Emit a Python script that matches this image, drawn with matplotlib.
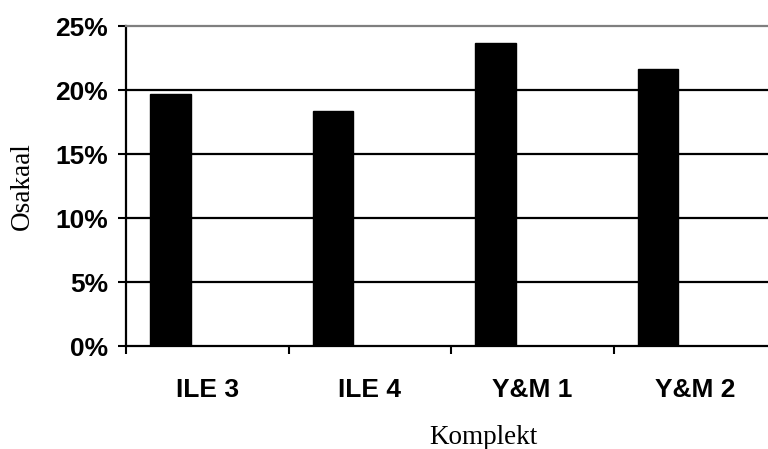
import matplotlib
matplotlib.use("Agg")
import matplotlib.pyplot as plt
import numpy as np
from matplotlib.ticker import FixedLocator, PercentFormatter

categories = ["ILE 3", "ILE 4", "Y&M 1", "Y&M 2"]
shares = [0.197, 0.1835, 0.2365, 0.2165]
y_ticks = [0.0, 0.05, 0.10, 0.15, 0.20, 0.25]

W, H = 768, 449
fig = plt.figure(figsize=(W / 100, H / 100), dpi=100)
ax = fig.add_axes([126 / W, 1 - 346 / H, 1 - 126 / W, (346 - 26) / H])

x = np.arange(len(categories))
ax.bar(x - 0.227, shares, width=0.25, color="black", edgecolor="black",
       linewidth=1, zorder=3)

ax.set_ylim(0, 0.25)
ax.set_xlim(-0.5, -0.5 + (W - 126) / 162.5)

# horizontal gridlines
for v in y_ticks[1:-1]:
    ax.axhline(v, color="black", linewidth=1.6, zorder=1)

ax.set_yticks(y_ticks)
ax.yaxis.set_major_formatter(PercentFormatter(1.0, decimals=0))
ax.tick_params(axis="y", direction="out", length=6, width=1.5, pad=7)
for lab in ax.get_yticklabels():
    lab.set_fontfamily("Liberation Sans")
    lab.set_fontweight("bold")
    lab.set_fontsize(19)

# category labels at centres, tick marks at boundaries
ax.set_xticks(x)
ax.set_xticklabels(categories, fontfamily="Liberation Sans", fontweight="bold",
                   fontsize=19)
ax.tick_params(axis="x", which="major", length=0, pad=23)
ax.xaxis.set_minor_locator(FixedLocator(np.arange(-0.5, len(categories) + 0.5, 1.0)))
ax.tick_params(axis="x", which="minor", direction="out", length=6, width=1.5)

ax.spines["left"].set_linewidth(1.6)
ax.spines["bottom"].set_linewidth(1.6)
ax.spines["top"].set_color("#7f7f7f")
ax.spines["top"].set_linewidth(1.6)
ax.spines["right"].set_visible(False)

fig.text(483 / W, 1 - 437 / H, "Komplekt", fontfamily="Liberation Serif",
         fontsize=19.5, ha="center", va="center")
fig.text(22 / W, 1 - 186 / H, "Osakaal", fontfamily="Liberation Serif",
         fontsize=19.5, ha="center", va="center", rotation=90)

fig.savefig("out.png", dpi=100)
